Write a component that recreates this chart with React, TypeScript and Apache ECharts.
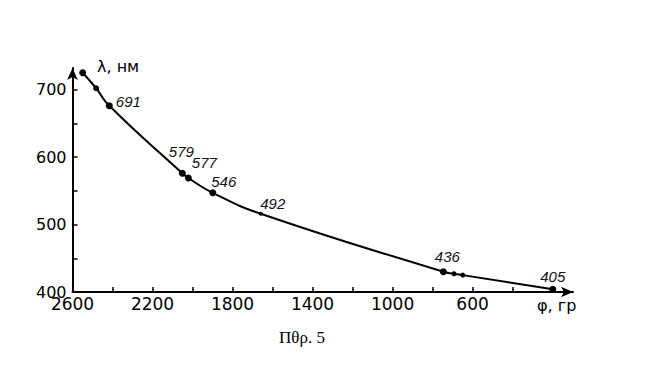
import React, { useEffect, useRef } from 'react';
import * as echarts from 'echarts';

// angle of deviation φ (gr) and wavelength λ (nm)
const phi = [2549, 2482, 2416, 2051, 2021, 1899, 1659, 746, 693, 649, 199];
const lambda = [725, 702, 676, 576, 569, 547, 516, 430, 427, 425, 404];
const lineNames = ['', '', '691', '579', '577', '546', '492', '436', '', '', '405'];

const xLabelValues = [2600, 2200, 1800, 1400, 1000, 600];
const xTickValues = [2600, 2400, 2200, 2000, 1800, 1600, 1400, 1200, 1000, 800, 600, 400, 200];
const yLabelValues = [400, 500, 600, 700];
const yTickValues = [400, 450, 500, 550, 600, 650, 700];

// styling per point (not data)
const symbolSizes = [7, 6, 7, 7, 7, 7, 4, 7, 5, 5, 7];
const labelPlacement: Array<{ position: string; offset: [number, number] } | null> = [
  null,
  null,
  { position: 'right', offset: [-2, -4] },
  { position: 'top', offset: [-1, -6] },
  { position: 'top', offset: [16, 1] },
  { position: 'top', offset: [11, 5] },
  { position: 'top', offset: [12, 4] },
  { position: 'top', offset: [4, 1] },
  null,
  null,
  { position: 'top', offset: [0, 3] },
];

export default function App() {
  const ref = useRef<HTMLDivElement>(null);
  useEffect(() => {
    const chart = echarts.init(ref.current!, null, { renderer: 'svg' });
    const data = phi.map((p, i) => {
      const lp = labelPlacement[i];
      return {
        value: [p, lambda[i]],
        symbolSize: symbolSizes[i],
        label: lp
          ? {
              show: true,
              formatter: lineNames[i],
              position: lp.position,
              offset: lp.offset,
              fontFamily: 'Liberation Sans',
              fontStyle: 'italic',
              fontSize: 15,
              color: '#111',
            }
          : { show: false },
      };
    });
    chart.setOption({
      animation: false,
      backgroundColor: '#fff',
      grid: { left: 72.5, right: 95, top: 68, bottom: 86 },
      xAxis: {
        type: 'value',
        inverse: true,
        min: 98,
        max: 2600,
        axisLine: {
          show: true,
          lineStyle: { color: '#000', width: 2 },
          symbol: ['none', 'arrow'],
          symbolSize: [8, 12],
        },
        axisTick: {
          show: true,
          inside: true,
          length: 5,
          customValues: xTickValues,
          lineStyle: { color: '#000', width: 1.5 },
        },
        axisLabel: {
          customValues: xLabelValues,
          formatter: (v: number) => String(v),
          fontFamily: 'DejaVu Sans',
          fontSize: 17,
          lineHeight: 10,
          color: '#000',
          margin: 7,
        },
        splitLine: { show: false },
      },
      yAxis: {
        type: 'value',
        min: 400,
        max: 732,
        axisLine: {
          show: true,
          lineStyle: { color: '#000', width: 2 },
          symbol: ['none', 'arrow'],
          symbolSize: [8, 12],
        },
        axisTick: {
          show: true,
          inside: true,
          length: 5,
          customValues: yTickValues,
          lineStyle: { color: '#000', width: 1.5 },
        },
        axisLabel: {
          customValues: yLabelValues,
          formatter: (v: number) => String(v),
          fontFamily: 'DejaVu Sans',
          fontSize: 16,
          lineHeight: 8,
          color: '#000',
          margin: 6,
          padding: [0, 0, 4, 0],
        },
        splitLine: { show: false },
      },
      series: [
        {
          type: 'line',
          data,
          smooth: 0.5,
          symbol: 'circle',
          itemStyle: { color: '#000' },
          lineStyle: { color: '#000', width: 2 },
        },
      ],
      graphic: [
        {
          type: 'text',
          x: 97,
          y: 58,
          style: { text: 'λ, нм', font: '16px "DejaVu Sans"', fill: '#000' },
        },
        {
          type: 'text',
          x: 537,
          y: 297,
          style: { text: 'φ, гр', font: '16px "DejaVu Sans"', fill: '#000' },
        },
        {
          type: 'text',
          x: 279,
          y: 329,
          style: { text: 'Пθρ. 5', font: '17px "Liberation Serif"', fill: '#000' },
        },
      ],
    });
    return () => chart.dispose();
  }, []);
  return (
    <div
      ref={ref}
      style={{ position: 'fixed', left: 0, top: 0, width: 668, height: 378, background: '#fff' }}
    />
  );
}
